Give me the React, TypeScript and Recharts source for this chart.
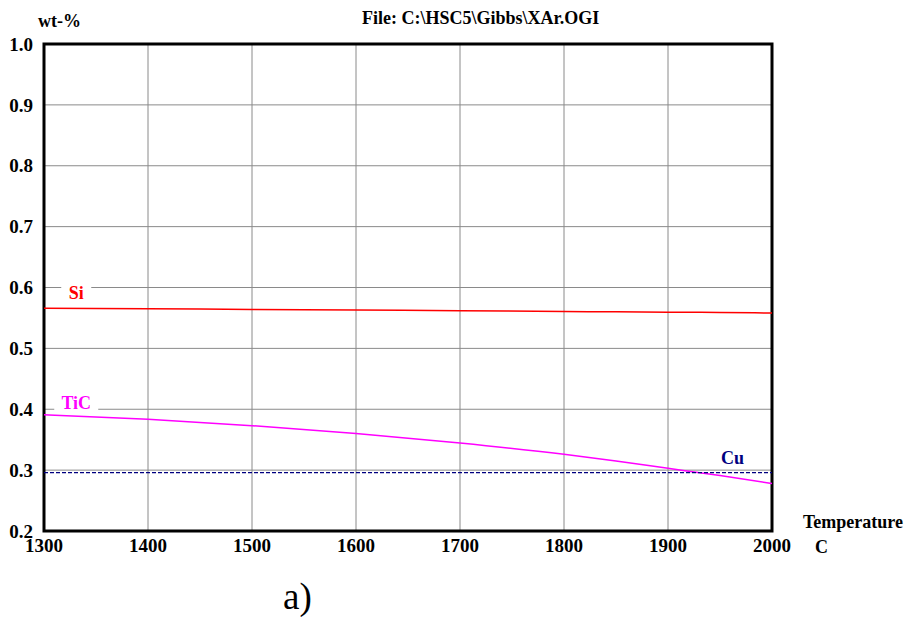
import React from 'react';
import { LineChart, Line, XAxis, YAxis, CartesianGrid, ReferenceArea, ReferenceDot } from 'recharts';

const temperatures = [1300, 1400, 1500, 1600, 1700, 1800, 1850, 1900, 1950, 2000];
const siValues = [0.566, 0.565, 0.564, 0.563, 0.562, 0.5605, 0.56, 0.5595, 0.559, 0.558];
const ticValues = [0.391, 0.3835, 0.373, 0.36, 0.3445, 0.326, 0.315, 0.303, 0.291, 0.278];
const cuValues = [0.296, 0.296, 0.296, 0.296, 0.296, 0.296, 0.296, 0.296, 0.296, 0.296];

const xTicks = [1300, 1400, 1500, 1600, 1700, 1800, 1900, 2000];
const yTicks = [0.2, 0.3, 0.4, 0.5, 0.6, 0.7, 0.8, 0.9, 1.0];

const data = temperatures.map((t, i) => ({
  t,
  si: siValues[i],
  tic: ticValues[i],
  cu: cuValues[i],
}));

const FONT = '"Liberation Serif", "Times New Roman", serif';

// series name tags, sitting on a white patch that breaks the grid line
function SeriesTag(text: string, color: string, w: number, h: number) {
  return (props: any) => {
    const { cx, cy } = props;
    return (
      <g>
        <rect x={cx - w / 2} y={cy - h / 2} width={w} height={h} fill="#fff" />
        <text x={cx} y={cy} dy="0.35em" textAnchor="middle" fill={color}
          fontFamily={FONT} fontWeight="bold" fontSize={18}>
          {text}
        </text>
      </g>
    );
  };
}

export default function App() {
  return (
    <div style={{ position: 'absolute', left: 0, top: 0, width: 907, height: 617, background: '#fff' }}>
      <LineChart width={907} height={617} data={data}
        margin={{ top: 44, right: 135, bottom: 0, left: 0 }}>
        <CartesianGrid stroke="#8a8a8a" strokeWidth={1} />
        <XAxis dataKey="t" type="number" domain={[1300, 2000]} ticks={xTicks}
          height={86} axisLine={false} tickLine={false} tickSize={0} tickMargin={8}
          tick={{ fill: '#000', fontFamily: FONT, fontWeight: 'bold', fontSize: 19 }} />
        <YAxis type="number" domain={[0.2, 1.0]} ticks={yTicks} width={44}
          axisLine={false} tickLine={false} tickSize={0} tickMargin={11}
          tickFormatter={(v: number) => v.toFixed(1)}
          tick={{ fill: '#000', fontFamily: FONT, fontWeight: 'bold', fontSize: 19 }} />
        <ReferenceDot x={1331} y={0.591} r={0} shape={SeriesTag('Si', '#ff0000', 30, 18)} />
        <ReferenceDot x={1331} y={0.4115} r={0} shape={SeriesTag('TiC', '#ff00ff', 44, 18)} />
        <ReferenceDot x={1962} y={0.3205} r={0} shape={SeriesTag('Cu', '#000080', 26, 14)} />
        <Line dataKey="si" type="monotone" stroke="#ff0000" strokeWidth={1.5} dot={false} isAnimationActive={false} />
        <Line dataKey="tic" type="monotone" stroke="#ff00ff" strokeWidth={1.5} dot={false} isAnimationActive={false} />
        <Line dataKey="cu" type="linear" stroke="#000080" strokeWidth={1.3} strokeDasharray="4 2" dot={false} isAnimationActive={false} />
        <ReferenceArea x1={1300} x2={2000} y1={0.2} y2={1.0} fill="none" stroke="#000" strokeWidth={3} fillOpacity={0} />
      </LineChart>
      <svg width={907} height={617} style={{ position: 'absolute', left: 0, top: 0, pointerEvents: 'none' }}>
        <g fontFamily={FONT} fontWeight="bold" fontSize={18} fill="#000">
          <text x={38} y={27}>wt-%</text>
          <text x={362} y={24}>File: C:\HSC5\Gibbs\XAr.OGI</text>
          <text x={803} y={528}>Temperature</text>
          <text x={815} y={553}>C</text>
        </g>
        <text x={283} y={609} fontFamily={FONT} fontSize={37} fill="#000">a)</text>
      </svg>
    </div>
  );
}
